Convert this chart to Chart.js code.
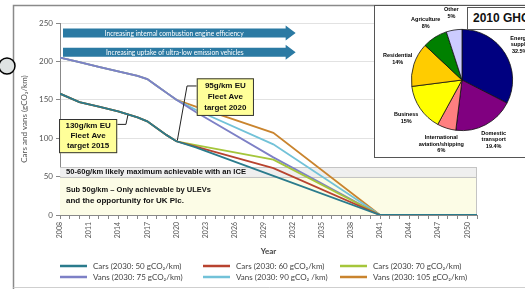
<!DOCTYPE html>
<html>
<head>
<meta charset="utf-8">
<script src="https://cdn.jsdelivr.net/npm/chart.js@4.4.0/dist/chart.umd.min.js"></script>
<style>
  html, body { margin: 0; padding: 0; background: #fff; overflow: hidden; }
  #wrap { position: relative; width: 525px; height: 289px; }
  #chart { position: absolute; left: 0; top: 0; }
  #inset { position: absolute; left: 374px; top: 5px; width: 170px; height: 153px; border: 1px solid #555; background: #fff; box-sizing: border-box; }
  #pie { position: absolute; left: 0; top: 0; }
  #ghg { position: absolute; left: 92px; top: 1px; width: 80px; height: 23px; border: 1px solid #555; background: #fff; box-sizing: border-box;
         font: bold 12px "Liberation Sans", Arial, sans-serif; line-height: 21px; padding-left: 5px; white-space: nowrap; color: #111; }
</style>
</head>
<body>
<div id="wrap">
  <canvas id="chart" width="525" height="289"></canvas>
  <div id="inset">
    <canvas id="pie" width="150" height="150"></canvas>
    <div id="ghg">2010 GHG</div>
  </div>
</div>
<script>
'use strict';

// emission pathways (gCO2/km)
const years = [2008, 2010, 2012, 2014, 2015, 2016, 2017, 2018, 2019, 2020, 2022, 2030, 2041, 2051];
const cars50 = [158, 147, 141, 135, 131, 127, 122, 113, 104, 96, 88, 51, 0, 0];
const cars60 = [158, 147, 141, 135, 131, 127, 122, 113, 104, 96, 89, 61, 0, 0];
const cars70 = [158, 147, 141, 135, 131, 127, 122, 113, 104, 96, 91, 72, 0, 0];
const vans75 = [205, 199, 193, 187, 184, 181, 177, 168, 159, 150, 134, 75, 0, 0];
const vans90 = [205, 199, 193, 187, 184, 181, 177, 168, 159, 150, 137, 92, 0, 0];
const vans105 = [205, 199, 193, 187, 184, 181, 177, 168, 159, 150, 141, 107, 0, 0];

const seriesLabels = [
  'Cars (2030: 50 gCO₂/km)', 'Cars (2030: 60 gCO₂/km)', 'Cars (2030: 70 gCO₂/km)',
  'Vans (2030: 75 gCO₂/km)', 'Vans (2030: 90 gCO₂ /km)', 'Vans (2030: 105 gCO₂/km)'
];
const seriesColors = ['#2a7b8c', '#b8432f', '#a5c63b', '#7d80c6', '#72c2d8', '#c9842e'];

const yearTicks = [2008, 2011, 2014, 2017, 2020, 2023, 2026, 2029, 2032, 2035, 2038, 2041, 2044, 2047, 2050];
const iceBand = [50, 62];
const ulevBand = [0, 50];

// 2010 GHG pie
const pieLabels = ['Energy supply', 'Domestic transport', 'International aviation/shipping', 'Business', 'Residential', 'Agriculture', 'Other'];
const pieValues = [32.5, 19.4, 6, 15, 14, 8, 5];
const pieColors = ['#000080', '#800080', '#ff7f80', '#ffff00', '#ffcc00', '#008000', '#ccccff'];

const FONT = 'Lato, "Open Sans", sans-serif';
const NARROW = '"Liberation Sans Narrow", "Liberation Sans", Arial, sans-serif';

function pts(values) {
  return years.map((yr, i) => ({ x: yr, y: values[i] }));
}

function arrow(ctx, x0, x1, yc, color, text) {
  ctx.fillStyle = color;
  ctx.beginPath();
  ctx.moveTo(x0, yc - 4.5);
  ctx.lineTo(x1 - 10, yc - 4.5);
  ctx.lineTo(x1 - 10, yc - 7.5);
  ctx.lineTo(x1, yc);
  ctx.lineTo(x1 - 10, yc + 7.5);
  ctx.lineTo(x1 - 10, yc + 4.5);
  ctx.lineTo(x0, yc + 4.5);
  ctx.closePath();
  ctx.fill();
  ctx.fillStyle = '#fff';
  ctx.font = '6.6px ' + FONT;
  ctx.textAlign = 'right';
  ctx.textBaseline = 'middle';
  ctx.fillText(text, x1 - 52, yc + 0.5);
}

function noteBox(ctx, x0, y0, x1, y1, lines, lineGap) {
  ctx.fillStyle = '#ffff99';
  ctx.fillRect(x0, y0, x1 - x0, y1 - y0);
  ctx.strokeStyle = '#333';
  ctx.lineWidth = 1;
  ctx.strokeRect(x0 + 0.5, y0 + 0.5, x1 - x0 - 1, y1 - y0 - 1);
  ctx.fillStyle = '#111';
  ctx.font = 'bold 8px ' + NARROW;
  ctx.textAlign = 'center';
  ctx.textBaseline = 'middle';
  const cx = (x0 + x1) / 2, cy = (y0 + y1) / 2;
  lines.forEach((t, i) => ctx.fillText(t, cx, cy + (i - (lines.length - 1) / 2) * lineGap));
}

const overlay = {
  id: 'overlay',
  beforeDraw(chart) {
    const { ctx } = chart;
    ctx.save();
    ctx.fillStyle = '#fff';
    ctx.fillRect(0, 0, chart.width, chart.height);
    ctx.restore();
  },
  beforeDatasetsDraw(chart) {
    const { ctx, chartArea: a, scales: { x, y } } = chart;
    ctx.save();
    // sub 50 band
    const u0 = y.getPixelForValue(ulevBand[0]), u1 = y.getPixelForValue(ulevBand[1]);
    ctx.fillStyle = '#fcfce6';
    ctx.fillRect(a.left, u1, a.right - a.left, u0 - u1);
    // ICE band
    const i0 = y.getPixelForValue(iceBand[0]), i1 = y.getPixelForValue(iceBand[1]);
    ctx.fillStyle = '#efefef';
    ctx.fillRect(a.left, i1, a.right - a.left, i0 - i1);
    ctx.strokeStyle = '#c4c4c4';
    ctx.lineWidth = 1;
    ctx.beginPath();
    ctx.moveTo(a.left, Math.round(i1) + 0.5); ctx.lineTo(a.right, Math.round(i1) + 0.5);
    ctx.moveTo(a.left, Math.round(i0) + 0.5); ctx.lineTo(a.right, Math.round(i0) + 0.5);
    ctx.moveTo(a.right - 0.5, i1); ctx.lineTo(a.right - 0.5, u0);
    ctx.stroke();

    ctx.fillStyle = '#111';
    ctx.font = 'bold 8px ' + NARROW;
    ctx.textAlign = 'left';
    ctx.textBaseline = 'middle';
    ctx.fillText('50-60g/km likely maximum achievable with an ICE', a.left + 6, (i0 + i1) / 2, 180);
    ctx.fillText('Sub 50g/km \u2013 Only achievable by ULEVs', a.left + 6, y.getPixelForValue(32.5), 145);
    ctx.fillText('and the opportunity for UK Plc.', a.left + 6, y.getPixelForValue(18), 118);

    // arrows
    const ax0 = a.left + 3, ax1 = x.getPixelForValue(2032.3);
    arrow(ctx, ax0, ax1, y.getPixelForValue(237), '#2b7aa3', 'Increasing internal combustion engine efficiency');
    arrow(ctx, ax0, ax1, y.getPixelForValue(212), '#2b7aa3', 'Increasing uptake of ultra-low emission vehicles');
    ctx.restore();
  },
  afterDatasetsDraw(chart) {
    const { ctx, scales: { x, y } } = chart;
    ctx.save();
    // leader lines
    ctx.strokeStyle = '#222';
    ctx.lineWidth = 1;
    ctx.beginPath();
    ctx.moveTo(x.getPixelForValue(2013.9), y.getPixelForValue(118));
    ctx.lineTo(x.getPixelForValue(2014.8), y.getPixelForValue(118));
    ctx.lineTo(x.getPixelForValue(2015), y.getPixelForValue(130));
    ctx.moveTo(x.getPixelForValue(2022.1), y.getPixelForValue(168));
    ctx.lineTo(x.getPixelForValue(2021.1), y.getPixelForValue(168));
    ctx.lineTo(x.getPixelForValue(2020.1), y.getPixelForValue(97));
    ctx.stroke();
    noteBox(ctx, x.getPixelForValue(2007.9), y.getPixelForValue(125), x.getPixelForValue(2013.9), y.getPixelForValue(80.5),
      ['130g/km EU', 'Fleet Ave', 'target 2015'], 10);
    noteBox(ctx, x.getPixelForValue(2022.1), y.getPixelForValue(178), x.getPixelForValue(2028), y.getPixelForValue(129),
      ['95g/km EU', 'Fleet Ave', 'target 2020'], 11);
    ctx.restore();
  },
  afterDraw(chart) {
    const { ctx } = chart;
    ctx.save();
    // frame
    ctx.strokeStyle = '#8a8a8a';
    ctx.lineWidth = 1.5;
    ctx.beginPath();
    ctx.moveTo(13.5, 289); ctx.lineTo(13.5, 5.5); ctx.lineTo(525, 5.5);
    ctx.stroke();
    ctx.strokeStyle = '#cfcfcf';
    ctx.lineWidth = 1;
    ctx.beginPath();
    ctx.moveTo(13.5, 287.5); ctx.lineTo(525, 287.5);
    ctx.stroke();
    // side handle
    ctx.fillStyle = '#dfe3e3';
    ctx.strokeStyle = '#000';
    ctx.lineWidth = 1.5;
    ctx.beginPath();
    ctx.arc(7, 66, 8, 0, Math.PI * 2);
    ctx.fill();
    ctx.stroke();
    // legend
    const cols = [60, 203, 340], rows = [266, 277];
    ctx.font = '8px ' + FONT;
    ctx.textAlign = 'left';
    ctx.textBaseline = 'middle';
    chart.data.datasets.forEach((ds, i) => {
      const lx = cols[i % 3], ly = rows[Math.floor(i / 3)];
      ctx.strokeStyle = ds.borderColor;
      ctx.lineWidth = 2.5;
      ctx.beginPath();
      ctx.moveTo(lx, ly); ctx.lineTo(lx + 27, ly);
      ctx.stroke();
      ctx.fillStyle = '#444';
      ctx.fillText(ds.label, lx + 33, ly);
    });
    ctx.restore();
  }
};

const seriesValues = [cars50, cars60, cars70, vans75, vans90, vans105];

new Chart(document.getElementById('chart'), {
  type: 'line',
  data: {
    datasets: seriesValues.map((v, i) => ({
      label: seriesLabels[i],
      data: pts(v),
      borderColor: seriesColors[i],
      backgroundColor: seriesColors[i],
      borderWidth: 1.8,
      pointRadius: 0,
      tension: 0,
      fill: false
    }))
  },
  options: {
    responsive: false,
    animation: false,
    events: [],
    layout: { padding: { left: 13, right: 48, top: 23, bottom: 31 } },
    plugins: { legend: { display: false }, tooltip: { enabled: false } },
    scales: {
      x: {
        type: 'linear',
        min: 2008,
        max: 2051,
        afterFit(s) { s.height = 43; },
        border: { color: '#888', width: 1 },
        grid: { drawOnChartArea: false, tickLength: 4, color: '#888', tickColor: '#888' },
        ticks: {
          stepSize: 1,
          autoSkip: false,
          maxRotation: 90,
          minRotation: 90,
          padding: 3,
          color: '#555',
          font: { family: FONT, size: 7 },
          callback: (v) => (yearTicks.includes(v) ? String(v) : '')
        },
        title: { display: true, text: 'Year', color: '#444', font: { family: FONT, size: 8, weight: 'bold' }, padding: { top: 2, bottom: 2 } }
      },
      y: {
        min: 0,
        max: 250,
        afterFit(s) { s.width = 47; },
        border: { color: '#888', width: 1 },
        grid: { color: '#e2e2e2', tickLength: 4, tickColor: '#888' },
        ticks: { stepSize: 50, padding: 3, color: '#555', font: { family: FONT, size: 8 } },
        title: { display: true, text: 'Cars and vans (gCO₂/km)', color: '#555', font: { family: FONT, size: 8 }, padding: { top: 7, bottom: 0 } }
      }
    }
  },
  plugins: [overlay]
});

const pieLabelPlugin = {
  id: 'pieLabelPlugin',
  afterDatasetsDraw(chart) {
    const { ctx } = chart;
    const meta = chart.getDatasetMeta(0);
    ctx.save();
    ctx.fillStyle = '#000';
    ctx.font = 'bold 5.5px "Liberation Sans", Arial, sans-serif';
    ctx.textAlign = 'center';
    ctx.textBaseline = 'middle';
    meta.data.forEach((arc, i) => {
      const p = arc.getProps(['x', 'y', 'startAngle', 'endAngle', 'outerRadius'], true);
      const mid = (p.startAngle + p.endAngle) / 2;
      const r = p.outerRadius + 17;
      const lx = p.x + Math.cos(mid) * r;
      const ly = p.y + Math.sin(mid) * r;
      const words = pieLabels[i].split(' ');
      const lines = words.concat([pieValues[i] + '%']);
      lines.forEach((t, k) => ctx.fillText(t, lx, ly + (k - (lines.length - 1) / 2) * 6.5));
    });
    ctx.restore();
  }
};

new Chart(document.getElementById('pie'), {
  type: 'pie',
  data: {
    labels: pieLabels,
    datasets: [{ data: pieValues, backgroundColor: pieColors, borderColor: '#111', borderWidth: 0.8 }]
  },
  options: {
    responsive: false,
    animation: false,
    events: [],
    layout: { padding: { left: 36, right: 12, top: 23, bottom: 25 } },
    plugins: { legend: { display: false }, tooltip: { enabled: false } }
  },
  plugins: [pieLabelPlugin]
});
</script>
</body>
</html>
